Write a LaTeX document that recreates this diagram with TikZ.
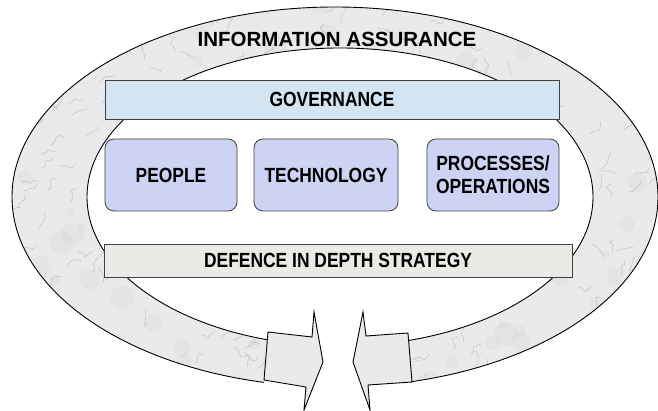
\documentclass[tikz,border=0pt]{standalone}
\usepackage{fontspec}
\setmainfont{Liberation Sans}
\newfontfamily\narrowfont[FakeStretch=0.85]{Liberation Sans}
\definecolor{marble}{RGB}{232,234,236}
\definecolor{govblue}{RGB}{211,228,243}
\definecolor{pillarblue}{RGB}{205,211,243}
\definecolor{defgrey}{RGB}{234,234,231}

\begin{document}
\begin{tikzpicture}[x=1pt, y=-1pt,
ring/.style = {fill=marble, draw=black, line width=0.9pt},
vein/.style = {draw=black!55, line width=0.4pt, opacity=0.4, line join=round},
blotch/.style = {fill=black!40, opacity=0.07},
bar/.style = {draw=black!75, line width=0.8pt, inner sep=0pt, font=\narrowfont\bfseries\fontsize{20.5}{24}\selectfont},
pillar/.style = {draw=black!75, line width=0.8pt, rounded corners=9pt, fill=pillarblue, inner sep=0pt, align=center, font=\narrowfont\bfseries\fontsize{20.5}{23}\selectfont}]

\useasboundingbox (0,0) rectangle (658,411);

% the ring, open at the bottom
\begin{scope}
\clip (0,0) -- (658,0) -- (658,411) -- (414,411) -- (405,300) -- (270,300) -- (262,411) -- (0,411) -- cycle;
\filldraw[ring, even odd rule] (335,197) ellipse [x radius=323pt, y radius=190pt] (340,197) ellipse [x radius=253pt, y radius=149pt];
\begin{scope}[even odd rule]
\clip (335,197) ellipse [x radius=323pt, y radius=190pt] (340,197) ellipse [x radius=253pt, y radius=149pt];
\pgfmathsetseed{11}
\foreach \i in {1,...,120}{
  \fill[blotch] (rnd*658,rnd*411) circle [radius={4+8*rnd}];
}
\foreach \i in {1,...,420}{
  \pgfmathsetmacro\px{rnd*658}
  \pgfmathsetmacro\py{rnd*411}
  \pgfmathsetmacro\ang{-40+60*rand}
  \draw[vein] (\px,\py) -- ++(\ang:4) -- ++({\ang+60*rand}:5) -- ++({\ang+60*rand}:4) -- ++({\ang+80*rand}:5);
}
\end{scope}
\end{scope}

% arrow heads
\draw[ring] (268,332) -- (312,337) -- (314,312) -- (323,362) -- (304,410) -- (306,387) -- (264,380) -- cycle;
\draw[ring] (408,333) -- (366,336) -- (363,312) -- (353,362) -- (370,410) -- (368,385) -- (412,382) -- cycle;

\node[font=\bfseries\fontsize{20.5}{24}\selectfont] (assurance) at (337,39) {INFORMATION ASSURANCE};

\node[bar, fill=govblue, minimum width=454pt, minimum height=39pt] (governance) at (332,99.5) {GOVERNANCE};
\node[pillar, minimum width=132pt, minimum height=72pt] (people) at (171,175) {PEOPLE};
\node[pillar, minimum width=144pt, minimum height=72pt] (technology) at (326,175) {TECHNOLOGY};
\node[pillar, minimum width=132pt, minimum height=72pt] (processes) at (493,175) {PROCESSES/\\OPERATIONS};
\node[bar, fill=defgrey, minimum width=468pt, minimum height=33pt] (defence) at (338,260.5) {DEFENCE IN DEPTH STRATEGY};

\end{tikzpicture}
\end{document}
